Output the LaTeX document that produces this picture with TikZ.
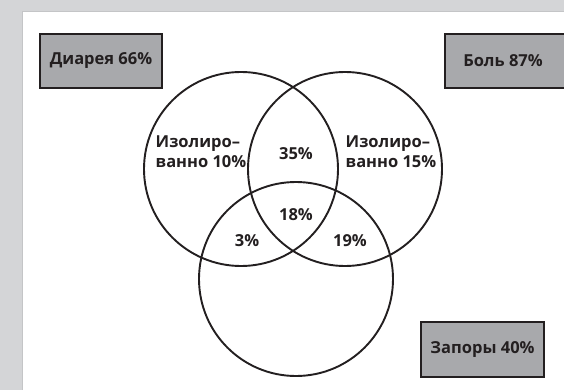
\documentclass[tikz,border=0pt]{standalone}
\usepackage{fontspec}
\setmainfont{Open Sans}
\definecolor{bggray}{HTML}{D4D5D7}
\definecolor{panelline}{HTML}{C4C5C7}
\definecolor{boxgray}{HTML}{A8A9AC}
\definecolor{ink}{HTML}{231F20}
\begin{document}
\begin{tikzpicture}[x=1pt,y=-1pt,
  lbl/.style={font=\fontsize{16.5}{20}\selectfont\bfseries, text=ink, inner sep=0pt, align=left},
  catbox/.style={draw=ink, line width=1.6pt, fill=boxgray, minimum height=54pt, inner sep=0pt,
    font=\fontsize{16.5}{20}\selectfont\bfseries, text=ink},
  venn/.style={draw=ink, line width=1.9pt, circle, minimum size=194pt, inner sep=0pt}]
\useasboundingbox (0,0) rectangle (564,390);
\fill[bggray] (0,0) rectangle (564,390);
\begin{scope}
\clip (0,0) rectangle (564,390);
\draw[panelline, fill=white, line width=1pt] (22,11.5) rectangle (580,400);
\node[catbox, minimum width=122pt] (dia) at (101,61) {Диарея 66\%};
\node[catbox, minimum width=122pt] (bol) at (506,61) {\hspace*{-6pt}Боль 87\%};
\node[catbox, minimum width=123pt, minimum height=55pt] (zap) at (482.5,349.5) {Запоры 40\%};
\end{scope}
\node[venn] (cl) at (241,169) {};
\node[venn] (cr) at (345,169) {};
\node[venn] (cb) at (296,279) {};
\node[lbl] (il) at (201,152) {Изолиро–\\ванно 10\%};
\node[lbl] (ir) at (391,152) {Изолиро–\\ванно 15\%};
\node[lbl] (p35) at (296,154) {35\%};
\node[lbl] (p18) at (296,215) {18\%};
\node[lbl] (p3) at (247,241) {3\%};
\node[lbl] (p19) at (350,241) {19\%};
\end{tikzpicture}
\end{document}
